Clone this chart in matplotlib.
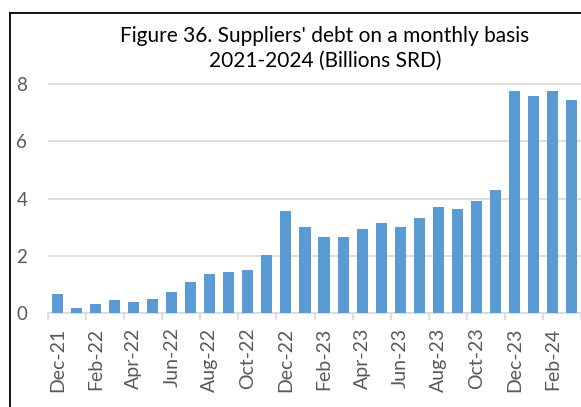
import matplotlib
matplotlib.use("Agg")
import matplotlib.pyplot as plt
from matplotlib.lines import Line2D

months = ["Dec-21", "Jan-22", "Feb-22", "Mar-22", "Apr-22", "May-22", "Jun-22", "Jul-22",
          "Aug-22", "Sep-22", "Oct-22", "Nov-22", "Dec-22", "Jan-23", "Feb-23", "Mar-23",
          "Apr-23", "May-23", "Jun-23", "Jul-23", "Aug-23", "Sep-23", "Oct-23", "Nov-23",
          "Dec-23", "Jan-24", "Feb-24", "Mar-24"]
debt = [0.67, 0.18, 0.30, 0.47, 0.38, 0.50, 0.72, 1.07, 1.35, 1.42, 1.50, 2.03,
        3.55, 3.00, 2.66, 2.64, 2.92, 3.16, 3.02, 3.32, 3.70, 3.65, 3.92, 4.28,
        7.74, 7.58, 7.76, 7.44]
yticks = [0, 2, 4, 6, 8]

W, H = 581, 407
fig = plt.figure(figsize=(W / 100, H / 100), dpi=100)
font = "Lato"

left, right = 48 / W, 1.0
y0, y8 = 313, 84
ppu = (y0 - y8) / 8
ylim_top = 8.0 + (84 - 70) / ppu
top_px = y8 - (ylim_top - 8) * ppu
ax = fig.add_axes([left, 1 - y0 / H, right - left, (y0 - top_px) / H])

x = list(range(len(months)))
ax.bar(x, debt, width=0.58, color="#5B9BD5", zorder=3)

cat_w = 19.15
xmax = -0.5 + (W - 48) / cat_w
ax.set_xlim(-0.5, xmax)
ax.set_ylim(0, ylim_top)
ax.set_yticks(yticks)
ax.set_yticklabels([str(v) for v in yticks], fontsize=13.5, color="#595959", family=font)
ax.yaxis.grid(True, color="#D9D9D9", linewidth=1.2, zorder=0)
ax.tick_params(axis="y", length=0, pad=15)

ax.set_xticks(x[::2])
ax.set_xticklabels(months[::2], rotation=90, fontsize=14, color="#595959", family=font)
ax.set_xticks([i - 0.5 for i in range(0, len(months) + 1, 2)], minor=True)
ax.tick_params(axis="x", which="major", length=0, pad=10.5)
ax.tick_params(axis="x", which="minor", length=5, color="#D9D9D9", width=1.2)

for s in ["top", "right", "left"]:
    ax.spines[s].set_visible(False)
ax.spines["bottom"].set_color("#D9D9D9")
ax.spines["bottom"].set_linewidth(1.2)

fig.text(325 / W, 1 - 42 / H, "Figure 36. Suppliers' debt on a monthly basis",
         ha="center", va="baseline", fontsize=15, family=font, color="black")
fig.text(325 / W, 1 - 67 / H, "2021-2024 (Billions SRD)",
         ha="center", va="baseline", fontsize=15, family=font, color="black")

# outer frame (cropped at right and bottom)
fig.add_artist(Line2D([10 / W, 10 / W], [1 - 13 / H, -0.1], color="black", linewidth=1.3,
                      transform=fig.transFigure))
fig.add_artist(Line2D([10 / W, 1.1], [1 - 13 / H, 1 - 13 / H], color="black", linewidth=1.3,
                      transform=fig.transFigure))

fig.savefig("out.png", dpi=100)
